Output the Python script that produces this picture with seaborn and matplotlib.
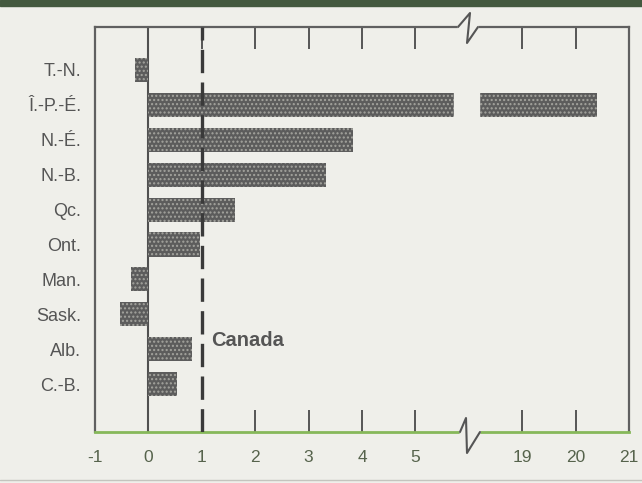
import numpy as np
import pandas as pd
import matplotlib
matplotlib.use("Agg")
import matplotlib.pyplot as plt
import seaborn as sns
from matplotlib.patches import Rectangle
from matplotlib.lines import Line2D

# Donnees
provinces = ["T.-N.", "Î.-P.-É.", "N.-É.", "N.-B.", "Qc.", "Ont.", "Man.", "Sask.", "Alb.", "C.-B."]
variation = [-0.25, 20.4, 3.83, 3.32, 1.62, 0.96, -0.32, -0.53, 0.82, 0.53]
canada = 1.0
xticks = [-1, 0, 1, 2, 3, 4, 5, 19, 20, 21]
xlabels = ["-1", "0", "1", "2", "3", "4", "5", "19", "20", "21"]

# Axe coupe entre 6 et 18
def fwd(x):
    x = np.asarray(x, dtype=float)
    return np.where(x <= 5.9, x, np.where(x >= 18.1, x - 12, 5.9 + (x - 5.9) * 0.2 / 12.2))

def inv(v):
    v = np.asarray(v, dtype=float)
    return np.where(v <= 5.9, v, np.where(v >= 6.1, v + 12, 5.9 + (v - 5.9) * 12.2 / 0.2))

sns.set_style("white")
plt.rcParams['font.family'] = ['Liberation Sans', 'DejaVu Sans']
plt.rcParams['hatch.linewidth'] = 1.0

bg = "#efefea"
fig = plt.figure(figsize=(6.42, 4.83), dpi=100, facecolor=bg)
ax = fig.add_axes([95 / 642, 1 - 432 / 483, 534 / 642, 405 / 483])
ax.set_facecolor(bg)

df = pd.DataFrame({"province": provinces, "variation": variation})
sns.barplot(data=df, x="variation", y="province", orient="h", color="#5c5c5c",
            saturation=1, width=0.69, ax=ax, zorder=2)
for p in ax.patches:
    p.set_hatch("....")
    p.set_edgecolor("#a4a49e")
    p.set_linewidth(0)

ax.set_xscale("function", functions=(fwd, inv))
ax.set_xlim(-1, 21)
ax.set_ylim(10.37, -1.23)
ax.set_xticks(xticks, labels=xlabels)
ax.set_xlabel("")
ax.set_ylabel("")

ax.tick_params(axis="x", direction="in", length=16, width=1.4, color="#555555",
               bottom=True, top=True, labeltop=False, pad=13, labelsize=12.5,
               labelcolor="#56634c")
ax.tick_params(axis="y", length=0, pad=10, labelsize=13, labelcolor="#555555")

for s in ["left", "top", "right"]:
    ax.spines[s].set_color("#606060")
    ax.spines[s].set_linewidth(1.6)
ax.spines["bottom"].set_color("#86b85a")
ax.spines["bottom"].set_linewidth(2)

# ligne du zero et moyenne Canada
ax.axvline(0, color="#505050", lw=1.5, zorder=1)
ax.axvline(canada, color="#3a3a3a", lw=2.4, dashes=(7, 2.8), zorder=4)
ax.text(1.17, 7.74, "Canada", fontsize=14.5, fontweight="bold", color="#555555",
        va="center", ha="left")

# trou dans la barre coupee
ax.fill_betweenx([1 - 0.4, 1 + 0.4], 5.72, float(inv(6.19)), color=bg, zorder=3)

# marques de coupure
def px(xp, yp):
    return (xp - 95) / 534, 1 + (27 - yp) / 405

for seg, zz in [([(459, 27), (477, 27)], [(458, 27), (470, 13), (467, 43), (478, 27)]),
                ([(461, 432), (479, 432)], [(460, 432), (466, 418), (467, 453), (480, 432)])]:
    xs, ys = zip(*[px(a, b) for a, b in seg])
    ax.add_line(Line2D(xs, ys, transform=ax.transAxes, color=bg, lw=3, clip_on=False, zorder=6))
    xs, ys = zip(*[px(a, b) for a, b in zz])
    ax.add_line(Line2D(xs, ys, transform=ax.transAxes, color="#555555", lw=1.5,
                       clip_on=False, zorder=7))

# bandeau du haut
fig.add_artist(Rectangle((0, 1 - 6 / 483), 1, 6 / 483, transform=fig.transFigure,
                         color="#44593f", zorder=0))
fig.add_artist(Line2D([0, 1], [1 - 480 / 483] * 2, transform=fig.transFigure,
                      color="#c4c4be", lw=1))

fig.savefig("out.png", dpi=100, facecolor=bg)
